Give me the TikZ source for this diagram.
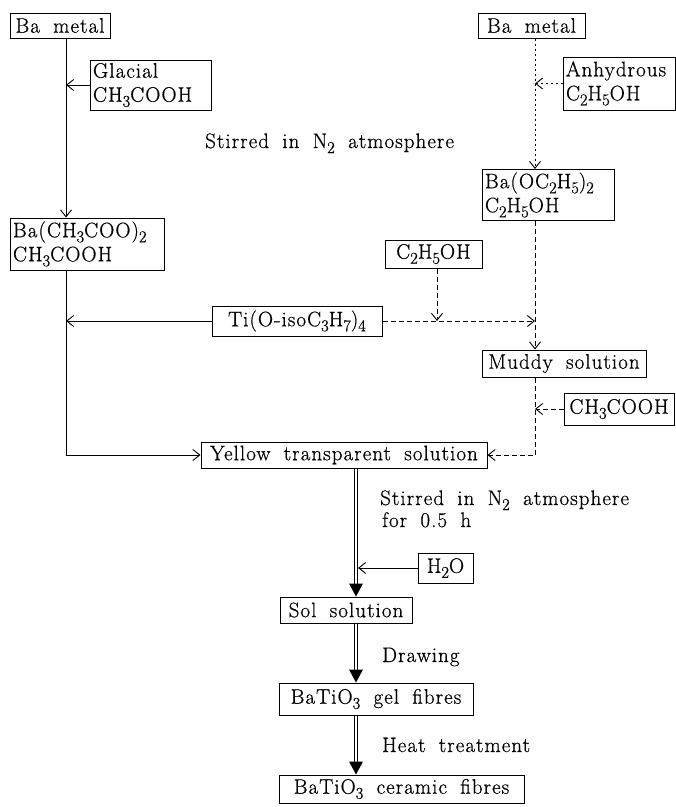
\documentclass[tikz,border=0pt]{standalone}
\usepackage{fontspec}
\setmainfont{Latin Modern Roman}[LetterSpace=5, WordSpace=1.8, FakeBold=0.6]
\usetikzlibrary{arrows.meta,calc}
\newcommand\sbs[1]{\raisebox{-5pt}{\fontsize{16.5}{16.5}\selectfont #1}}
\tikzset{
  box/.style={draw, line width=1pt, inner sep=3pt, font=\fontsize{21}{24}\selectfont},
  lbl/.style={inner sep=0pt, font=\fontsize{21}{24}\selectfont},
  sarr/.style={line width=0.9pt, -{Straight Barb[length=7pt,width=11pt]}},
  dotarr/.style={line width=0.9pt, dash pattern=on 2pt off 3pt, -{Straight Barb[length=7pt,width=11pt]}},
  dasharr/.style={line width=0.9pt, dash pattern=on 5pt off 3pt, -{Straight Barb[length=7pt,width=11pt]}},
  dbl/.style={double, double distance=2.4pt, line width=1.2pt},
  tri/.style={fill=black}
}
\begin{document}
\begin{tikzpicture}[x=1pt,y=-1pt]
\useasboundingbox (0,0) rectangle (676,807);
% reference x positions of the vertical lines
\coordinate (xL) at (66,0);
\coordinate (xR) at (535,0);
\coordinate (xC) at (356,0);
\coordinate (xE) at (437,0);
% left branch
\node[box, minimum width=100pt, minimum height=25pt] (bm1) at (60,25.5) {Ba metal};
\node[box, text width=115pt, align=left, minimum height=50pt] (gl) at (150.5,85) {Glacial\\CH\sbs{3}COOH};
\node[box, text width=148pt, align=left, minimum height=52pt] (bac) at (87,244) {Ba(CH\sbs{3}COO)\sbs{2}\\CH\sbs{3}COOH};
\node[lbl, anchor=base west] (st1) at (205,148) {Stirred in N\sbs{2} atmosphere};
% right branch
\node[box, minimum width=107pt, minimum height=25pt] (bm2) at (531.5,25.5) {Ba metal};
\node[box, text width=106pt, align=left, minimum height=53pt] (anh) at (619,83.5) {Anhydrous\\C\sbs{2}H\sbs{5}OH};
\node[box, text width=126pt, align=left, minimum height=50pt] (baoe) at (548,195) {Ba(OC\sbs{2}H\sbs{5})\sbs{2}\\C\sbs{2}H\sbs{5}OH};
\node[box, minimum width=97pt, minimum height=28pt] (c2) at (433.5,254) {C\sbs{2}H\sbs{5}OH};
\node[box, minimum width=170pt, minimum height=30pt] (ti) at (297,321) {Ti(O-isoC\sbs{3}H\sbs{7})\sbs{4}};
\node[box, minimum width=164pt, minimum height=27pt] (mud) at (564,363.5) {Muddy solution};
\node[box, minimum width=110pt, minimum height=32pt] (ch3) at (619,409) {CH\sbs{3}COOH};
% centre column
\node[box, minimum width=286pt, minimum height=26pt] (yel) at (344,455) {Yellow transparent solution};
\node[lbl, anchor=base west] (st2) at (380,505) {Stirred in N\sbs{2} atmosphere};
\node[lbl, anchor=base west] (st3) at (382,527) {for 0.5 h};
\node[box, minimum width=55pt, minimum height=30pt] (h2o) at (445.5,568) {H\sbs{2}O};
\node[box, minimum width=132pt, minimum height=26pt] (sol) at (346,610) {Sol solution};
\node[lbl, anchor=base west] (drw) at (382,662) {Drawing};
\node[box, minimum width=194pt, minimum height=32pt] (gel) at (376,699) {BaTiO\sbs{3} gel fibres};
\node[lbl, anchor=base west] (ht) at (382,752) {Heat treatment};
\node[box, minimum width=245pt, minimum height=28pt] (cer) at (401.5,789) {BaTiO\sbs{3} ceramic fibres};
% left connectors
\draw[sarr] (bm1.south -| xL) -- (bac.north -| xL);
\draw[sarr] (gl.west) -- (gl.west -| xL);
\draw[sarr] (ti.west) -- (ti.west -| xL);
\draw[sarr] (bac.south -| xL) -- (xL |- yel.west) -- (yel.west);
% right connectors
\draw[dotarr] (bm2.south -| xR) -- (baoe.north -| xR);
\draw[dotarr] (anh.west) -- (anh.west -| xR);
\draw[dasharr] (baoe.south -| xR) -- (mud.north -| xR);
\draw[dasharr] (ti.east) -- (ti.east -| xR);
\draw[dasharr] (c2.south -| xE) -- (xE |- ti.east);
\draw[dasharr] (mud.south -| xR) -- (xR |- yel.east) -- (yel.east);
\draw[dasharr] (ch3.west) -- (ch3.west -| xR);
% centre double arrows
\draw[dbl] (yel.south -| xC) -- ($(sol.north -| xC)+(0,-12)$);
\fill[tri] (sol.north -| xC) -- ++(-7,-13) -- ++(14,0) -- cycle;
\draw[sarr] (h2o.west) -- ($(h2o.west -| xC)+(2,0)$);
\draw[dbl] (sol.south -| xC) -- ($(gel.north -| xC)+(0,-12)$);
\fill[tri] (gel.north -| xC) -- ++(-7,-13) -- ++(14,0) -- cycle;
\draw[dbl] (gel.south -| xC) -- ($(cer.north -| xC)+(0,-12)$);
\fill[tri] (cer.north -| xC) -- ++(-7,-13) -- ++(14,0) -- cycle;
\end{tikzpicture}
\end{document}
